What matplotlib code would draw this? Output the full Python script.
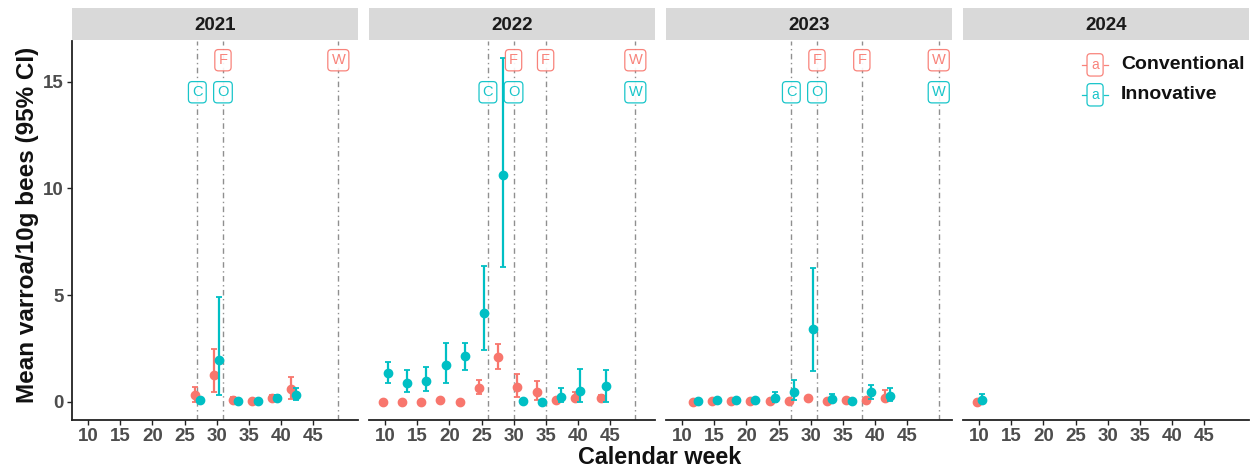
import numpy as np
import matplotlib
matplotlib.use('Agg')
import matplotlib.pyplot as plt
from matplotlib.lines import Line2D

plt.rcParams['font.family'] = ['Liberation Sans', 'DejaVu Sans']

CONV = '#F8766D'
INNO = '#00BFC4'

years = ['2021', '2022', '2023', '2024']

# ---- mean varroa / 10 g bees with 95% CI ----
weeks_2021 = [27, 30, 33, 36, 39, 42]
conv_mean_2021 = [0.31, 1.28, 0.11, 0.05, 0.19, 0.62]
conv_lo_2021 = [0.00, 0.44, 0.02, 0.00, 0.10, 0.15]
conv_hi_2021 = [0.70, 2.49, 0.22, 0.10, 0.30, 1.17]
inno_mean_2021 = [0.08, 1.95, 0.03, 0.05, 0.19, 0.34]
inno_lo_2021 = [0.00, 0.31, 0.00, 0.00, 0.10, 0.08]
inno_hi_2021 = [0.15, 4.91, 0.06, 0.10, 0.30, 0.65]

weeks_2022 = [10, 13, 16, 19, 22, 25, 28, 31, 34, 37, 40, 44]
conv_mean_2022 = [0.00, 0.00, 0.00, 0.08, 0.00, 0.66, 2.10, 0.70, 0.47, 0.08, 0.19, 0.16]
conv_lo_2022 = [0.00, 0.00, 0.00, 0.00, 0.00, 0.39, 1.56, 0.23, 0.11, 0.00, 0.05, 0.05]
conv_hi_2022 = [0.00, 0.00, 0.00, 0.15, 0.00, 1.01, 2.70, 1.29, 0.98, 0.15, 0.45, 0.30]
inno_mean_2022 = [1.36, 0.90, 0.98, 1.71, 2.14, 4.18, 10.64, 0.03, 0.00, 0.23, 0.50, 0.73]
inno_lo_2022 = [0.90, 0.44, 0.50, 0.90, 1.51, 2.42, 6.31, 0.00, 0.00, 0.00, 0.00, 0.00]
inno_hi_2022 = [1.87, 1.51, 1.61, 2.76, 2.76, 6.34, 16.09, 0.06, 0.00, 0.65, 1.53, 1.48]

weeks_2023 = [12, 15, 18, 21, 24, 27, 30, 33, 36, 39, 42]
conv_mean_2023 = [0.00, 0.02, 0.02, 0.02, 0.02, 0.03, 0.16, 0.03, 0.08, 0.08, 0.16]
conv_lo_2023 = [0.00, 0.00, 0.00, 0.00, 0.00, 0.00, 0.08, 0.00, 0.02, 0.02, 0.02]
conv_hi_2023 = [0.02, 0.05, 0.05, 0.05, 0.05, 0.06, 0.25, 0.06, 0.15, 0.20, 0.54]
inno_mean_2023 = [0.02, 0.07, 0.07, 0.08, 0.20, 0.47, 3.43, 0.15, 0.06, 0.47, 0.28]
inno_lo_2023 = [0.00, 0.00, 0.00, 0.00, 0.00, 0.08, 1.43, 0.00, 0.00, 0.15, 0.02]
inno_hi_2023 = [0.04, 0.12, 0.12, 0.14, 0.47, 1.04, 6.26, 0.36, 0.12, 0.78, 0.65]

weeks_2024 = [10]
conv_mean_2024 = [0.00]
conv_lo_2024 = [0.00]
conv_hi_2024 = [0.00]
inno_mean_2024 = [0.11]
inno_lo_2024 = [0.00]
inno_hi_2024 = [0.39]

# ---- management events (week, label) ----
conv_events = {'2021': [(31, 'F'), (49, 'W')],
               '2022': [(30, 'F'), (35, 'F'), (49, 'W')],
               '2023': [(31, 'F'), (38, 'F'), (50, 'W')],
               '2024': []}
inno_events = {'2021': [(27, 'C'), (31, 'O')],
               '2022': [(26, 'C'), (30, 'O'), (49, 'W')],
               '2023': [(27, 'C'), (31, 'O'), (50, 'W')],
               '2024': []}

data = {
    '2021': (weeks_2021, conv_mean_2021, conv_lo_2021, conv_hi_2021, inno_mean_2021, inno_lo_2021, inno_hi_2021),
    '2022': (weeks_2022, conv_mean_2022, conv_lo_2022, conv_hi_2022, inno_mean_2022, inno_lo_2022, inno_hi_2022),
    '2023': (weeks_2023, conv_mean_2023, conv_lo_2023, conv_hi_2023, inno_mean_2023, inno_lo_2023, inno_hi_2023),
    '2024': (weeks_2024, conv_mean_2024, conv_lo_2024, conv_hi_2024, inno_mean_2024, inno_lo_2024, inno_hi_2024),
}

W, H = 1254, 472
fig = plt.figure(figsize=(W / 100, H / 100), dpi=100, facecolor='white')

AX_COL = '#222222'
TICK_COL = '#4D4D4D'
DODGE = 0.4

axes = []
for i, yr in enumerate(years):
    left = 71.7 + i * 297.0
    ax = fig.add_axes([left / W, (H - 420) / H, 286.5 / W, (420 - 41) / H])
    axes.append(ax)

    wk, cm, clo, chi, im, ilo, ihi = [np.array(a, dtype=float) for a in data[yr]]

    # vertical event lines
    ev_weeks = sorted(set([w for w, _ in conv_events[yr]] + [w for w, _ in inno_events[yr]]))
    for w in ev_weeks:
        ax.axvline(w, color='#8F8F8F', lw=1.0, ls=(0, (4, 2.5, 1, 2.5)), zorder=1)

    ax.errorbar(wk - DODGE, cm, yerr=[cm - clo, chi - cm], fmt='o', color=CONV,
                ms=6, elinewidth=1.6, capsize=1.9, capthick=1.3, zorder=3)
    ax.errorbar(wk + DODGE, im, yerr=[im - ilo, ihi - im], fmt='o', color=INNO,
                ms=6, elinewidth=1.6, capsize=1.9, capthick=1.3, zorder=4)

    for w, lab in conv_events[yr]:
        ax.text(w, 16.0, lab, ha='center', va='center', color=CONV, fontsize=10.5, alpha=0.9,
                zorder=5, bbox=dict(boxstyle='round,pad=0.25,rounding_size=0.25', fc='white',
                                     ec=CONV, lw=0.9, alpha=0.9))
    for w, lab in inno_events[yr]:
        ax.text(w, 14.5, lab, ha='center', va='center', color=INNO, fontsize=10.5, alpha=0.9,
                zorder=5, bbox=dict(boxstyle='round,pad=0.25,rounding_size=0.25', fc='white',
                                     ec=INNO, lw=0.9, alpha=0.9))

    ax.set_xlim(7.4, 52.1)
    ax.set_ylim(-0.85, 16.9)
    ax.set_xticks(range(10, 50, 5))
    ax.set_yticks([0, 5, 10, 15])
    for s in ['top', 'right']:
        ax.spines[s].set_visible(False)
    ax.spines['bottom'].set_color(AX_COL)
    ax.spines['bottom'].set_linewidth(1.3)
    ax.tick_params(axis='both', colors=AX_COL, length=3.5, width=1.0, labelsize=13.5,
                   labelcolor=TICK_COL, pad=2.5)
    for t in ax.get_xticklabels() + ax.get_yticklabels():
        t.set_fontweight('bold')
    if i == 0:
        ax.spines['left'].set_color(AX_COL)
        ax.spines['left'].set_linewidth(1.3)
    else:
        ax.spines['left'].set_visible(False)
        ax.tick_params(axis='y', left=False, labelleft=False)

    # facet strip
    sax = fig.add_axes([left / W, (H - 40) / H, 286.5 / W, 31.7 / H])
    sax.set_facecolor('#D9D9D9')
    for s in sax.spines.values():
        s.set_visible(False)
    sax.set_xticks([])
    sax.set_yticks([])
    sax.text(0.5, 0.47, yr, ha='center', va='center', fontsize=13.5, fontweight='bold',
             color='#1A1A1A', transform=sax.transAxes)

# legend inside the last panel
ax4 = axes[-1]
for j, (lab, col) in enumerate([('Conventional', CONV), ('Innovative', INNO)]):
    yy = 0.937 - j * 0.079
    ax4.text(0.462, yy, 'a', ha='center', va='center', color=col, fontsize=10, alpha=0.9,
             transform=ax4.transAxes, bbox=dict(boxstyle='round,pad=0.3,rounding_size=0.25',
                                                fc='white', ec=col, lw=0.9, alpha=0.9))
    for xs in [(0.418, 0.432), (0.492, 0.506)]:
        ax4.add_line(Line2D(xs, [yy, yy], color=col, lw=0.9, alpha=0.9,
                            transform=ax4.transAxes))
    ax4.text(0.552, yy, lab, ha='left', va='center', fontsize=14, fontweight='bold',
             color='#111111', transform=ax4.transAxes)

fig.text(28 / W, 1 - 225 / H, 'Mean varroa/10g bees (95% CI)', rotation=90, ha='center',
         va='center', fontsize=17.5, fontweight='bold', color='#111111')
fig.text(660 / W, 1 - 457 / H, 'Calendar week', ha='center', va='center', fontsize=16.8,
         fontweight='bold', color='#111111')

fig.savefig('out.png', dpi=100, facecolor='white')
